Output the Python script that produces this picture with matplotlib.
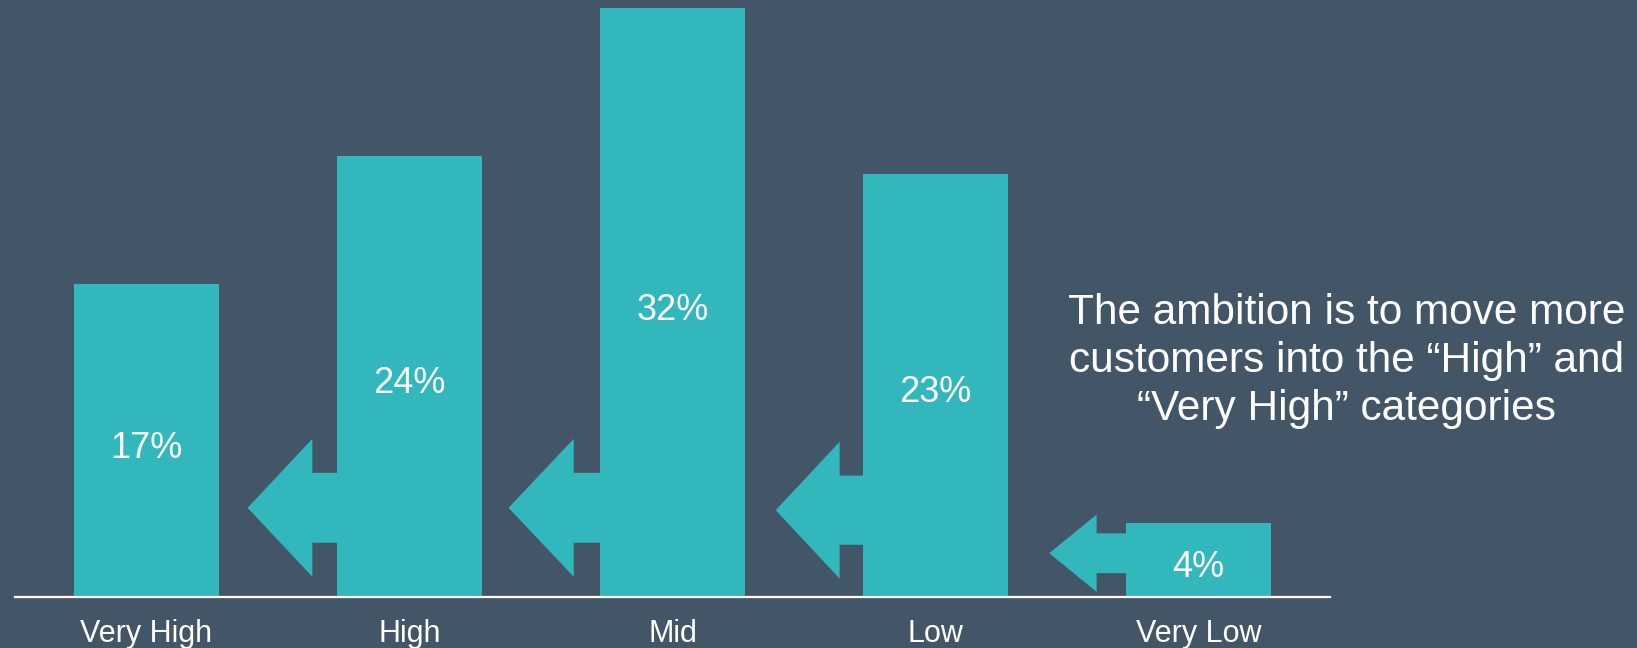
import matplotlib.pyplot as plt
from matplotlib.patches import Polygon

categories = ["Very High", "High", "Mid", "Low", "Very Low"]
shares = [17, 24, 32, 23, 4]
pct_labels = ["17%", "24%", "32%", "23%", "4%"]
note = "The ambition is to move more\ncustomers into the \u201cHigh\u201d and\n\u201cVery High\u201d categories"

# arrows sit left of bars 1..4: (bar index, tip x offset, head back offset, tip y, head half-height, shaft half-height)
arrows = [
    (1, 0.338, 0.092, 4.85, 3.75, 1.90),
    (2, 0.346, 0.098, 4.85, 3.75, 1.90),
    (3, 0.330, 0.087, 4.72, 3.72, 1.88),
    (4, 0.290, 0.110, 2.38, 2.10, 1.08),
]

BG = "#435668"
TEAL = "#32B7BD"
BAR_W = 0.555

plt.rcParams['font.family'] = ['Liberation Sans', 'DejaVu Sans']

fig = plt.figure(figsize=(16.37, 6.48), dpi=100, facecolor=BG)
ax = fig.add_axes([0.00916, 0.0787, 0.8033, 0.9213])
ax.set_facecolor(BG)

x = list(range(len(categories)))
ax.bar(x, shares, width=BAR_W, color=TEAL, zorder=2)

for i, v in enumerate(shares):
    ax.text(i, v / 2 - 0.4, pct_labels[i], ha="center", va="center",
            color="white", fontsize=26, zorder=3)

for idx, tip_off, back_off, ty, head_h, shaft_h in arrows:
    left = idx - BAR_W / 2
    tip = left - tip_off
    back = left - back_off
    pts = [
        (tip, ty),
        (back, ty + head_h),
        (back, ty + shaft_h),
        (left + 0.01, ty + shaft_h),
        (left + 0.01, ty - shaft_h),
        (back, ty - shaft_h),
        (back, ty - head_h),
    ]
    ax.add_patch(Polygon(pts, closed=True, color=TEAL, lw=0, zorder=2))

ax.set_xlim(-0.5, 4.5)
ax.set_ylim(0, 32.46)
for s in ["top", "right", "left"]:
    ax.spines[s].set_visible(False)
ax.spines["bottom"].set_color("white")
ax.spines["bottom"].set_linewidth(1.6)
ax.set_yticks([])
ax.set_xticks(x)
ax.set_xticklabels(categories, fontsize=22, color="white")
ax.tick_params(axis="x", length=0, pad=16)

fig.text(0.8228, 0.4435, note, ha="center", va="center", color="white",
         fontsize=30.5, linespacing=1.26)

fig.savefig("out.png", dpi=100, facecolor=BG)
